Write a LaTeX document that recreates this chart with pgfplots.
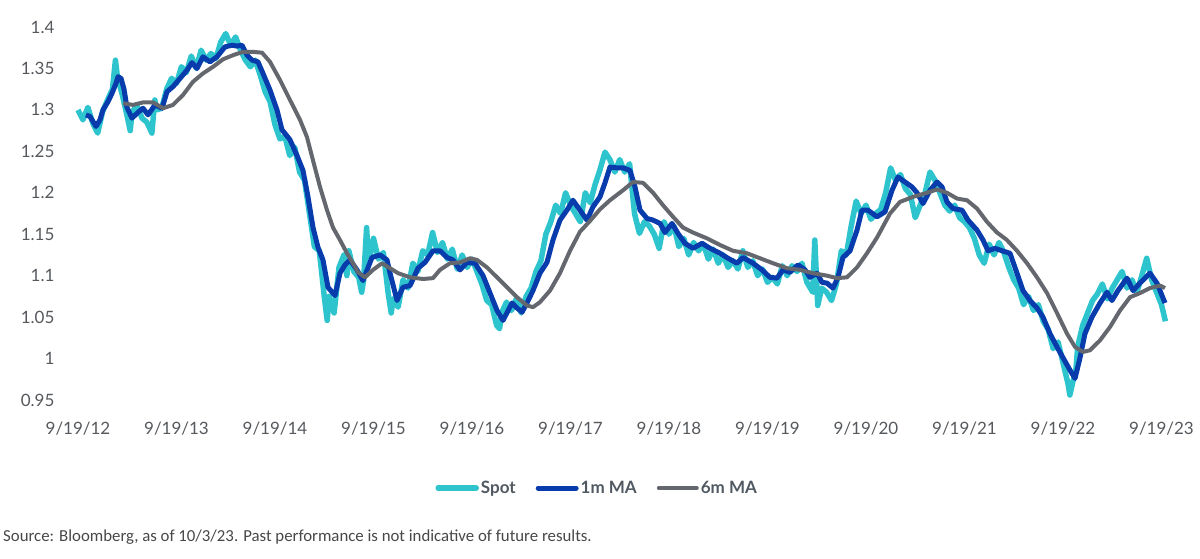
\documentclass[border=0pt]{standalone}
\usepackage{pgfplots}
\pgfplotsset{compat=1.18}
\usepackage{fontspec}
\setmainfont{Lato}
\newfontfamily\srcfont{Carlito}
\definecolor{spotc}{RGB}{45,196,206}
\definecolor{mac}{RGB}{8,60,172}
\definecolor{sixc}{RGB}{100,104,110}
\definecolor{tickc}{RGB}{85,88,92}
\definecolor{legc}{RGB}{80,88,98}
\begin{document}
\begin{tikzpicture}
\begin{axis}[
  scale only axis,
  width=1088.4pt, height=373pt,
  xmin=0, xmax=11.05, ymin=0.95, ymax=1.4,
  axis line style={draw=none},
  major tick length=0pt,
  xtick={0,1,2,3,4,5,6,7,8,9,10,11},
  xticklabels={9/19/12,9/19/13,9/19/14,9/19/15,9/19/16,9/19/17,9/19/18,9/19/19,9/19/20,9/19/21,9/19/22,9/19/23},
  ytick={0.95,1,1.05,1.1,1.15,1.2,1.25,1.3,1.35,1.4},
  yticklabels={0.95,1,1.05,1.1,1.15,1.2,1.25,1.3,1.35,1.4},
  tick label style={font=\fontsize{17}{20}\selectfont, text=tickc},
  xticklabel style={yshift=-18pt},
  yticklabel style={xshift=-20pt},
  clip=false,
  legend columns=3,
  legend style={draw=none, fill=none, at={(rel axis cs:0.477,-0.236)}, anchor=center,
    font=\fontsize{17}{20}\selectfont\bfseries, text=legc,
    /tikz/every even column/.append style={column sep=18pt},
    inner sep=0pt},
  legend image code/.code={\draw[#1, line cap=round] (2pt,0pt) -- (40pt,0pt);},
]
\coordinate (o) at (axis cs:0,0.95);
\addplot[spotc, line width=5.5pt, line join=round] coordinates {
(0.00,1.300)(0.05,1.288)(0.10,1.303)(0.15,1.284)(0.20,1.272)(0.25,1.298)(0.30,1.312)(0.35,1.325)(0.38,1.360)(0.40,1.340)
(0.45,1.318)(0.50,1.292)(0.53,1.275)(0.55,1.298)(0.60,1.305)(0.65,1.290)(0.70,1.285)(0.75,1.272)(0.78,1.312)(0.80,1.300)
(0.85,1.302)(0.90,1.325)(0.95,1.338)(1.00,1.332)(1.05,1.352)(1.10,1.345)(1.15,1.365)(1.20,1.350)(1.25,1.372)(1.30,1.360)
(1.35,1.368)(1.40,1.362)(1.45,1.382)(1.50,1.392)(1.55,1.378)(1.60,1.388)(1.65,1.372)(1.70,1.360)(1.75,1.352)(1.80,1.360)
(1.85,1.342)(1.90,1.322)(1.95,1.310)(2.00,1.282)(2.05,1.265)(2.10,1.268)(2.15,1.245)(2.20,1.255)(2.25,1.225)(2.30,1.215)
(2.35,1.175)(2.40,1.135)(2.45,1.130)(2.50,1.075)(2.53,1.046)(2.55,1.075)(2.60,1.055)(2.65,1.110)(2.70,1.125)(2.73,1.100)
(2.75,1.130)(2.80,1.105)(2.85,1.098)(2.88,1.080)(2.90,1.095)(2.93,1.158)(2.95,1.115)(3.00,1.145)(3.05,1.120)(3.10,1.128)
(3.15,1.078)(3.18,1.055)(3.20,1.072)(3.25,1.062)(3.30,1.095)(3.35,1.085)(3.40,1.115)(3.45,1.105)(3.50,1.130)(3.55,1.125)
(3.60,1.152)(3.65,1.128)(3.70,1.140)(3.75,1.120)(3.80,1.132)(3.85,1.108)(3.90,1.125)(3.95,1.110)(4.00,1.120)(4.05,1.105)
(4.10,1.090)(4.15,1.070)(4.20,1.065)(4.25,1.040)(4.28,1.036)(4.30,1.055)(4.35,1.068)(4.40,1.058)(4.45,1.072)(4.50,1.055)
(4.55,1.075)(4.60,1.085)(4.65,1.105)(4.70,1.118)(4.75,1.150)(4.80,1.165)(4.85,1.185)(4.90,1.175)(4.95,1.200)(5.00,1.185)
(5.05,1.175)(5.10,1.165)(5.15,1.200)(5.20,1.188)(5.25,1.210)(5.30,1.228)(5.35,1.249)(5.40,1.240)(5.45,1.225)(5.50,1.240)
(5.55,1.225)(5.60,1.235)(5.65,1.175)(5.70,1.151)(5.75,1.165)(5.80,1.160)(5.85,1.150)(5.90,1.133)(5.95,1.165)(6.00,1.150)
(6.05,1.160)(6.10,1.135)(6.15,1.145)(6.20,1.125)(6.25,1.140)(6.30,1.130)(6.35,1.138)(6.40,1.120)(6.45,1.132)(6.50,1.115)
(6.55,1.125)(6.60,1.110)(6.65,1.118)(6.70,1.108)(6.75,1.130)(6.80,1.110)(6.85,1.118)(6.90,1.100)(6.95,1.108)(7.00,1.092)
(7.05,1.098)(7.10,1.090)(7.15,1.112)(7.20,1.100)(7.25,1.112)(7.30,1.105)(7.35,1.115)(7.40,1.092)(7.46,1.080)(7.48,1.143)
(7.51,1.064)(7.55,1.085)(7.60,1.080)(7.65,1.070)(7.70,1.090)(7.75,1.130)(7.80,1.125)(7.85,1.160)(7.90,1.190)(7.95,1.175)
(8.00,1.185)(8.05,1.168)(8.10,1.175)(8.15,1.180)(8.20,1.200)(8.25,1.230)(8.30,1.215)(8.35,1.222)(8.40,1.205)(8.45,1.198)
(8.50,1.170)(8.55,1.185)(8.60,1.200)(8.65,1.225)(8.70,1.215)(8.75,1.200)(8.80,1.185)(8.85,1.178)(8.90,1.185)(8.95,1.170)
(9.00,1.165)(9.05,1.158)(9.10,1.145)(9.15,1.125)(9.20,1.115)(9.25,1.138)(9.30,1.125)(9.35,1.140)(9.40,1.128)(9.45,1.110)
(9.50,1.095)(9.55,1.085)(9.60,1.065)(9.65,1.075)(9.70,1.058)(9.75,1.065)(9.80,1.045)(9.85,1.035)(9.90,1.012)(9.95,1.020)
(10.00,0.995)(10.05,0.970)(10.07,0.956)(10.10,0.972)(10.13,0.985)(10.15,1.015)(10.20,1.040)(10.25,1.055)(10.30,1.070)(10.35,1.078)
(10.40,1.090)(10.45,1.072)(10.50,1.085)(10.55,1.095)(10.60,1.105)(10.65,1.085)(10.70,1.095)(10.75,1.080)(10.80,1.100)(10.85,1.121)
(10.90,1.095)(10.95,1.080)(11.00,1.065)(11.04,1.045)
};
\addlegendentry{Spot}
\addplot[mac, line width=5pt, line join=round] coordinates {
(0.081,1.294)(0.122,1.292)(0.183,1.280)(0.223,1.288)(0.254,1.300)(0.305,1.310)(0.345,1.320)(0.386,1.332)(0.406,1.340)(0.437,1.338)
(0.467,1.325)(0.497,1.303)(0.548,1.290)(0.609,1.297)(0.660,1.302)(0.711,1.294)(0.782,1.306)(0.853,1.302)(0.904,1.322)(0.964,1.328)
(1.036,1.338)(1.107,1.348)(1.157,1.357)(1.208,1.350)(1.269,1.364)(1.340,1.358)(1.411,1.364)(1.492,1.376)(1.563,1.378)(1.614,1.377)
(1.665,1.378)(1.716,1.366)(1.767,1.360)(1.827,1.358)(1.878,1.344)(1.949,1.324)(2.020,1.300)(2.071,1.276)(2.152,1.264)(2.223,1.245)
(2.284,1.227)(2.335,1.195)(2.386,1.158)(2.437,1.134)(2.487,1.119)(2.538,1.086)(2.609,1.076)(2.660,1.103)(2.711,1.113)(2.761,1.119)
(2.832,1.107)(2.893,1.094)(2.985,1.122)(3.066,1.125)(3.137,1.119)(3.168,1.103)(3.239,1.070)(3.299,1.086)(3.371,1.088)(3.452,1.109)
(3.523,1.116)(3.604,1.130)(3.675,1.130)(3.746,1.122)(3.807,1.119)(3.878,1.107)(3.949,1.116)(4.030,1.115)(4.112,1.100)(4.183,1.079)
(4.254,1.058)(4.315,1.046)(4.406,1.067)(4.457,1.061)(4.508,1.056)(4.558,1.067)(4.619,1.082)(4.690,1.103)(4.761,1.116)(4.822,1.143)
(4.893,1.167)(4.964,1.179)(5.025,1.191)(5.096,1.179)(5.168,1.167)(5.228,1.183)(5.299,1.195)(5.350,1.212)(5.401,1.231)(5.472,1.230)
(5.533,1.230)(5.604,1.227)(5.655,1.207)(5.706,1.179)(5.777,1.169)(5.838,1.167)(5.909,1.163)(5.959,1.152)(6.030,1.163)(6.091,1.151)
(6.162,1.139)(6.244,1.133)(6.335,1.139)(6.416,1.133)(6.518,1.127)(6.599,1.121)(6.690,1.115)(6.751,1.122)(6.853,1.115)(6.944,1.107)
(7.025,1.098)(7.096,1.097)(7.157,1.107)(7.228,1.104)(7.310,1.113)(7.381,1.107)(7.431,1.098)(7.503,1.103)(7.553,1.092)(7.604,1.091)
(7.665,1.085)(7.716,1.098)(7.766,1.122)(7.838,1.130)(7.909,1.155)(7.959,1.179)(8.020,1.179)(8.112,1.171)(8.193,1.177)(8.264,1.203)
(8.325,1.219)(8.396,1.213)(8.467,1.207)(8.518,1.200)(8.579,1.187)(8.650,1.203)(8.721,1.213)(8.772,1.207)(8.822,1.189)(8.883,1.181)
(8.975,1.179)(9.036,1.167)(9.127,1.155)(9.188,1.143)(9.239,1.130)(9.310,1.133)(9.381,1.130)(9.462,1.127)(9.533,1.103)(9.594,1.082)
(9.665,1.070)(9.736,1.061)(9.797,1.050)(9.868,1.030)(9.939,1.014)(10.000,1.001)(10.071,0.986)(10.122,0.976)(10.173,1.001)(10.223,1.030)
(10.294,1.050)(10.376,1.067)(10.447,1.080)(10.497,1.070)(10.558,1.082)(10.650,1.097)(10.711,1.082)(10.782,1.091)(10.883,1.103)(10.954,1.091)
(11.036,1.067)
};
\addlegendentry{1m MA}
\addplot[sixc, line width=4pt, line join=round] coordinates {
(0.457,1.308)(0.558,1.306)(0.660,1.309)(0.761,1.309)(0.863,1.302)(0.964,1.306)(1.066,1.318)(1.168,1.334)(1.269,1.344)(1.371,1.352)
(1.472,1.361)(1.574,1.366)(1.675,1.370)(1.777,1.370)(1.868,1.369)(1.949,1.358)(2.051,1.336)(2.152,1.312)(2.254,1.288)(2.325,1.267)
(2.386,1.239)(2.457,1.207)(2.528,1.179)(2.589,1.158)(2.660,1.143)(2.731,1.127)(2.792,1.115)(2.843,1.104)(2.914,1.098)(2.995,1.107)
(3.086,1.115)(3.168,1.109)(3.249,1.103)(3.371,1.098)(3.503,1.096)(3.604,1.097)(3.675,1.107)(3.777,1.115)(3.878,1.116)(3.980,1.121)
(4.051,1.119)(4.152,1.110)(4.254,1.098)(4.355,1.086)(4.457,1.074)(4.558,1.064)(4.619,1.062)(4.690,1.068)(4.792,1.082)(4.893,1.103)
(4.995,1.130)(5.096,1.153)(5.198,1.166)(5.299,1.180)(5.401,1.191)(5.533,1.203)(5.635,1.213)(5.736,1.212)(5.838,1.200)(5.939,1.185)
(6.041,1.171)(6.142,1.158)(6.244,1.152)(6.386,1.145)(6.518,1.137)(6.650,1.130)(6.792,1.127)(6.924,1.121)(7.056,1.115)(7.198,1.109)
(7.330,1.107)(7.462,1.103)(7.604,1.100)(7.706,1.097)(7.807,1.098)(7.909,1.110)(8.010,1.127)(8.112,1.146)(8.244,1.175)(8.345,1.189)
(8.477,1.195)(8.619,1.200)(8.721,1.204)(8.822,1.200)(8.924,1.193)(9.025,1.191)(9.127,1.181)(9.228,1.165)(9.330,1.152)(9.431,1.143)
(9.533,1.130)(9.635,1.115)(9.736,1.098)(9.838,1.079)(9.939,1.055)(10.041,1.030)(10.122,1.014)(10.203,1.008)(10.274,1.010)(10.376,1.022)
(10.477,1.038)(10.579,1.058)(10.680,1.074)(10.782,1.079)(10.883,1.085)(10.985,1.088)(11.036,1.085)
};
\addlegendentry{6m MA}
\end{axis}
\node[anchor=west, inner sep=0pt, font=\srcfont\fontsize{16.8}{19}\selectfont, text=black!72] at ([shift={(-75pt,-137pt)}]o) {Source: Bloomberg, as of 10/3/23. Past performance is not indicative of future results.};
\pgfresetboundingbox
\path ([shift={(-78pt,-159pt)}]o) rectangle ++(1200pt,559pt);
\end{tikzpicture}
\end{document}
